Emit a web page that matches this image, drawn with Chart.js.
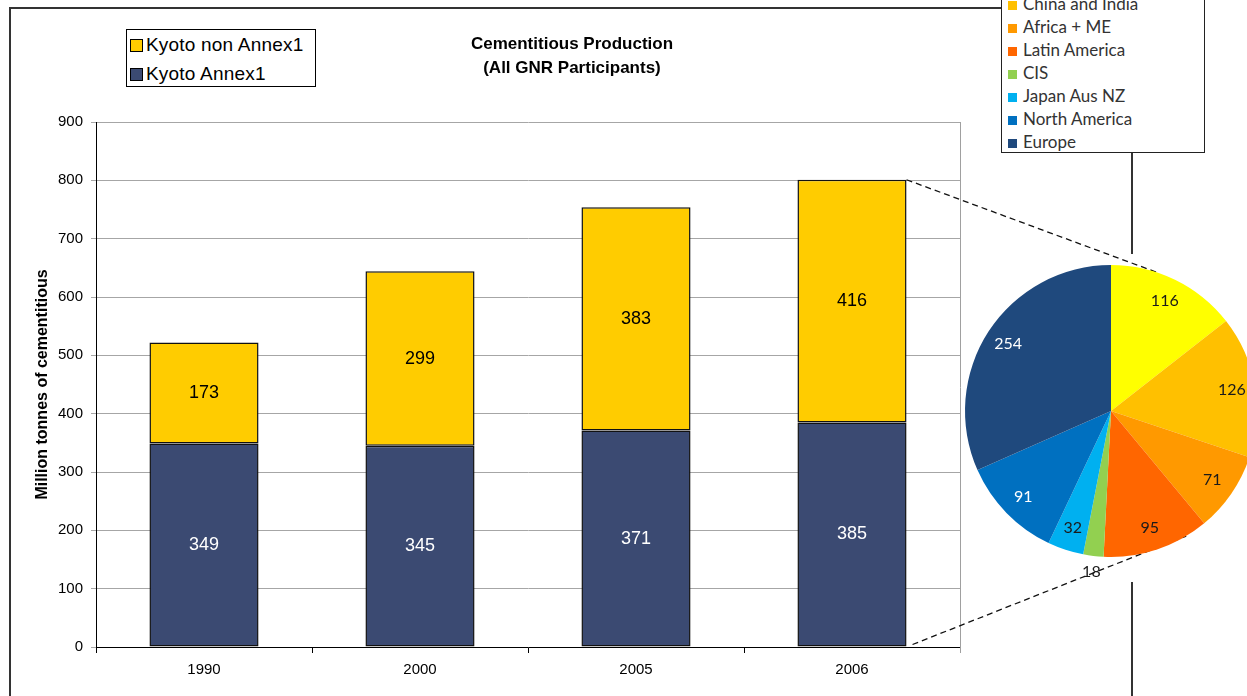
<!DOCTYPE html>
<html>
<head>
<meta charset="utf-8">
<script src="https://cdn.jsdelivr.net/npm/chart.js@4"></script>
<style>
  body { margin: 0; width: 1247px; height: 696px; overflow: hidden; position: relative; background: #fff; }
  .frame { position: absolute; left: 9px; top: 7px; width: 1124px; height: 720px; border: 2px solid #333; box-sizing: border-box; }
  #barChart { position: absolute; left: 0; top: 0; }
  .pieBack { position: absolute; left: 963px; top: 254px; width: 284px; height: 328px; background: #fff; }
  #links { position: absolute; left: 0; top: 0; }
  #pieChart { position: absolute; left: 941px; top: 241px; }
  .title { position: absolute; left: 422px; width: 300px; text-align: center; font: bold 17px "Liberation Sans", Arial, sans-serif; color: #000; }
  .barLegend { position: absolute; left: 126px; top: 29px; width: 190px; height: 58px; border: 1.5px solid #000; box-sizing: border-box; background: #fff; font: 19px "Liberation Sans", Arial, sans-serif; letter-spacing: 0.2px; }
  .barLegend div { position: absolute; left: 3px; height: 22px; line-height: 22px; white-space: nowrap; }
  .barLegend span { display: inline-block; width: 11px; height: 11px; border: 1px solid #000; margin-right: 3px; vertical-align: -1px; }
  .pieLegend { position: absolute; left: 1001px; top: -40px; width: 204px; height: 193px; border: 1.5px solid #222; box-sizing: border-box; background: #fff; font: 17px Lato, "Open Sans", sans-serif; color: #333; }
  .pieLegend div { position: absolute; left: 6px; height: 20px; line-height: 20px; white-space: nowrap; }
  .pieLegend span { display: inline-block; width: 9px; height: 9px; margin-right: 6px; vertical-align: 0px; }
</style>
</head>
<body>
<div class="frame"></div>
<canvas id="barChart" width="1000" height="696"></canvas>
<div class="pieBack"></div>
<canvas id="links" width="1247" height="696"></canvas>
<canvas id="pieChart" width="340" height="340"></canvas>
<div class="title" style="top:34px">Cementitious Production</div>
<div class="title" style="top:58px">(All GNR Participants)</div>
<div class="barLegend" id="barLegend"></div>
<div class="pieLegend" id="pieLegend"></div>
<script>
const years = ['1990', '2000', '2005', '2006'];
const annex1 = [349, 345, 371, 385];
const nonAnnex1 = [173, 299, 383, 416];

const regions = ['Other Asia', 'China and India', 'Africa + ME', 'Latin America', 'CIS', 'Japan Aus NZ', 'North America', 'Europe'];
const regionValues = [116, 126, 71, 95, 18, 32, 91, 254];
const regionColors = ['#FFFF00', '#FFC000', '#FF9900', '#FF6600', '#92D050', '#00B0F0', '#0070C0', '#1F497D'];

const annexColor = '#3B4A72';
const nonAnnexColor = '#FFCC00';
const arial = '"Liberation Sans", Arial, sans-serif';

// value text in the middle of every bar segment
const segmentLabels = {
  id: 'segmentLabels',
  afterDatasetsDraw(chart) {
    const ctx = chart.ctx;
    ctx.save();
    ctx.font = '18px ' + arial;
    ctx.textAlign = 'center';
    ctx.textBaseline = 'middle';
    chart.data.datasets.forEach((ds, i) => {
      ctx.fillStyle = i === 0 ? '#fff' : '#000';
      chart.getDatasetMeta(i).data.forEach((bar, j) => {
        const p = bar.getProps(['x', 'y', 'base'], true);
        ctx.fillText(ds.data[j], p.x, (p.y + p.base) / 2);
      });
    });
    ctx.restore();
  }
};

// grey edge on the right of the plot
const plotEdge = {
  id: 'plotEdge',
  afterDraw(chart) {
    const a = chart.chartArea;
    const ctx = chart.ctx;
    ctx.save();
    ctx.strokeStyle = '#a0a0a0';
    ctx.lineWidth = 1;
    ctx.beginPath();
    ctx.moveTo(a.right + 0.5, a.top);
    ctx.lineTo(a.right + 0.5, a.bottom + 6);
    ctx.stroke();
    ctx.restore();
  }
};

const barChart = new Chart(document.getElementById('barChart'), {
  type: 'bar',
  data: {
    labels: years,
    datasets: [{
      label: 'Kyoto Annex1',
      data: annex1,
      backgroundColor: annexColor,
      borderColor: '#111',
      borderWidth: 1.5,
      borderSkipped: false,
      barPercentage: 1,
      categoryPercentage: 0.505
    }, {
      label: 'Kyoto non Annex1',
      data: nonAnnex1,
      backgroundColor: nonAnnexColor,
      borderColor: '#111',
      borderWidth: 1.5,
      borderSkipped: false,
      barPercentage: 1,
      categoryPercentage: 0.505
    }]
  },
  options: {
    responsive: false,
    animation: false,
    layout: { padding: { left: 30, top: 122, right: 40, bottom: 9 } },
    plugins: { legend: { display: false }, tooltip: { enabled: false } },
    scales: {
      x: {
        stacked: true,
        grid: { offset: true, drawOnChartArea: false, tickLength: 6, color: '#000' },
        border: { color: '#000', width: 1 },
        ticks: { color: '#000', font: { family: arial, size: 15 }, padding: 8 },
        afterFit(scale) { scale.height = 40; }
      },
      y: {
        stacked: true,
        min: 0,
        max: 900,
        ticks: { stepSize: 100, color: '#000', font: { family: arial, size: 15 }, padding: 8 },
        grid: { color: '#a6a6a6', tickLength: 5 },
        border: { color: '#000', width: 1 },
        title: {
          display: true,
          text: 'Million tonnes of cementitious',
          color: '#000',
          font: { family: arial, size: 16, weight: 'bold' },
          padding: { top: 3, bottom: 3 }
        },
        afterFit(scale) { scale.width = 66; }
      }
    }
  },
  plugins: [segmentLabels, plotEdge]
});

// pie value labels, the small CIS slice gets its number outside
const sliceLabels = {
  id: 'sliceLabels',
  afterDatasetsDraw(chart) {
    const ctx = chart.ctx;
    ctx.save();
    ctx.font = '16px Lato, "Open Sans", sans-serif';
    ctx.textAlign = 'center';
    ctx.textBaseline = 'middle';
    chart.getDatasetMeta(0).data.forEach((arc, i) => {
      const p = arc.getProps(['x', 'y', 'startAngle', 'endAngle', 'outerRadius'], true);
      const a = (p.startAngle + p.endAngle) / 2;
      const r = i === 4 ? p.outerRadius * 1.11 : p.outerRadius * 0.84;
      ctx.fillStyle = i >= 6 ? '#fff' : '#1a1a1a';
      ctx.fillText(regionValues[i], p.x + Math.cos(a) * r, p.y + Math.sin(a) * r);
    });
    ctx.restore();
  }
};

const pieCanvas = document.getElementById('pieChart');
const pieChart = new Chart(pieCanvas, {
  type: 'pie',
  data: {
    labels: regions,
    datasets: [{ data: regionValues, backgroundColor: regionColors, borderWidth: 0 }]
  },
  options: {
    responsive: false,
    animation: false,
    layout: { padding: 24 },
    plugins: { legend: { display: false }, tooltip: { enabled: false } }
  },
  plugins: [sliceLabels]
});

// dashed lines from the 2006 bar out to the pie
(function drawLinks() {
  const ctx = document.getElementById('links').getContext('2d');
  const top = barChart.getDatasetMeta(1).data[3];
  const low = barChart.getDatasetMeta(0).data[3];
  const arc = pieChart.getDatasetMeta(0).data[0];
  const cx = arc.x + pieCanvas.offsetLeft;
  const cy = arc.y + pieCanvas.offsetTop;
  const R = arc.outerRadius;
  const edge = deg => {
    const t = deg * Math.PI / 180;
    return [cx + Math.sin(t) * R, cy - Math.cos(t) * R];
  };
  ctx.strokeStyle = '#111';
  ctx.lineWidth = 1.3;
  ctx.setLineDash([6, 4]);
  ctx.beginPath();
  ctx.moveTo(top.x + top.width / 2, top.y);
  ctx.lineTo(...edge(19));
  ctx.moveTo(low.x + low.width / 2 + 6, low.base - 2);
  ctx.lineTo(...edge(149));
  ctx.stroke();
})();

// legends
const barLegend = document.getElementById('barLegend');
[['Kyoto non Annex1', nonAnnexColor, 4], ['Kyoto Annex1', annexColor, 33]].forEach(([text, color, y]) => {
  const row = document.createElement('div');
  row.style.top = y + 'px';
  row.innerHTML = '<span style="background:' + color + '"></span>' + text;
  barLegend.appendChild(row);
});

const pieLegend = document.getElementById('pieLegend');
regions.forEach((name, i) => {
  const row = document.createElement('div');
  row.style.top = (142 - (regions.length - 1 - i) * 23 + 40 - 11) + 'px';
  row.innerHTML = '<span style="background:' + regionColors[i] + '"></span>' + name;
  pieLegend.appendChild(row);
});
</script>
</body>
</html>
